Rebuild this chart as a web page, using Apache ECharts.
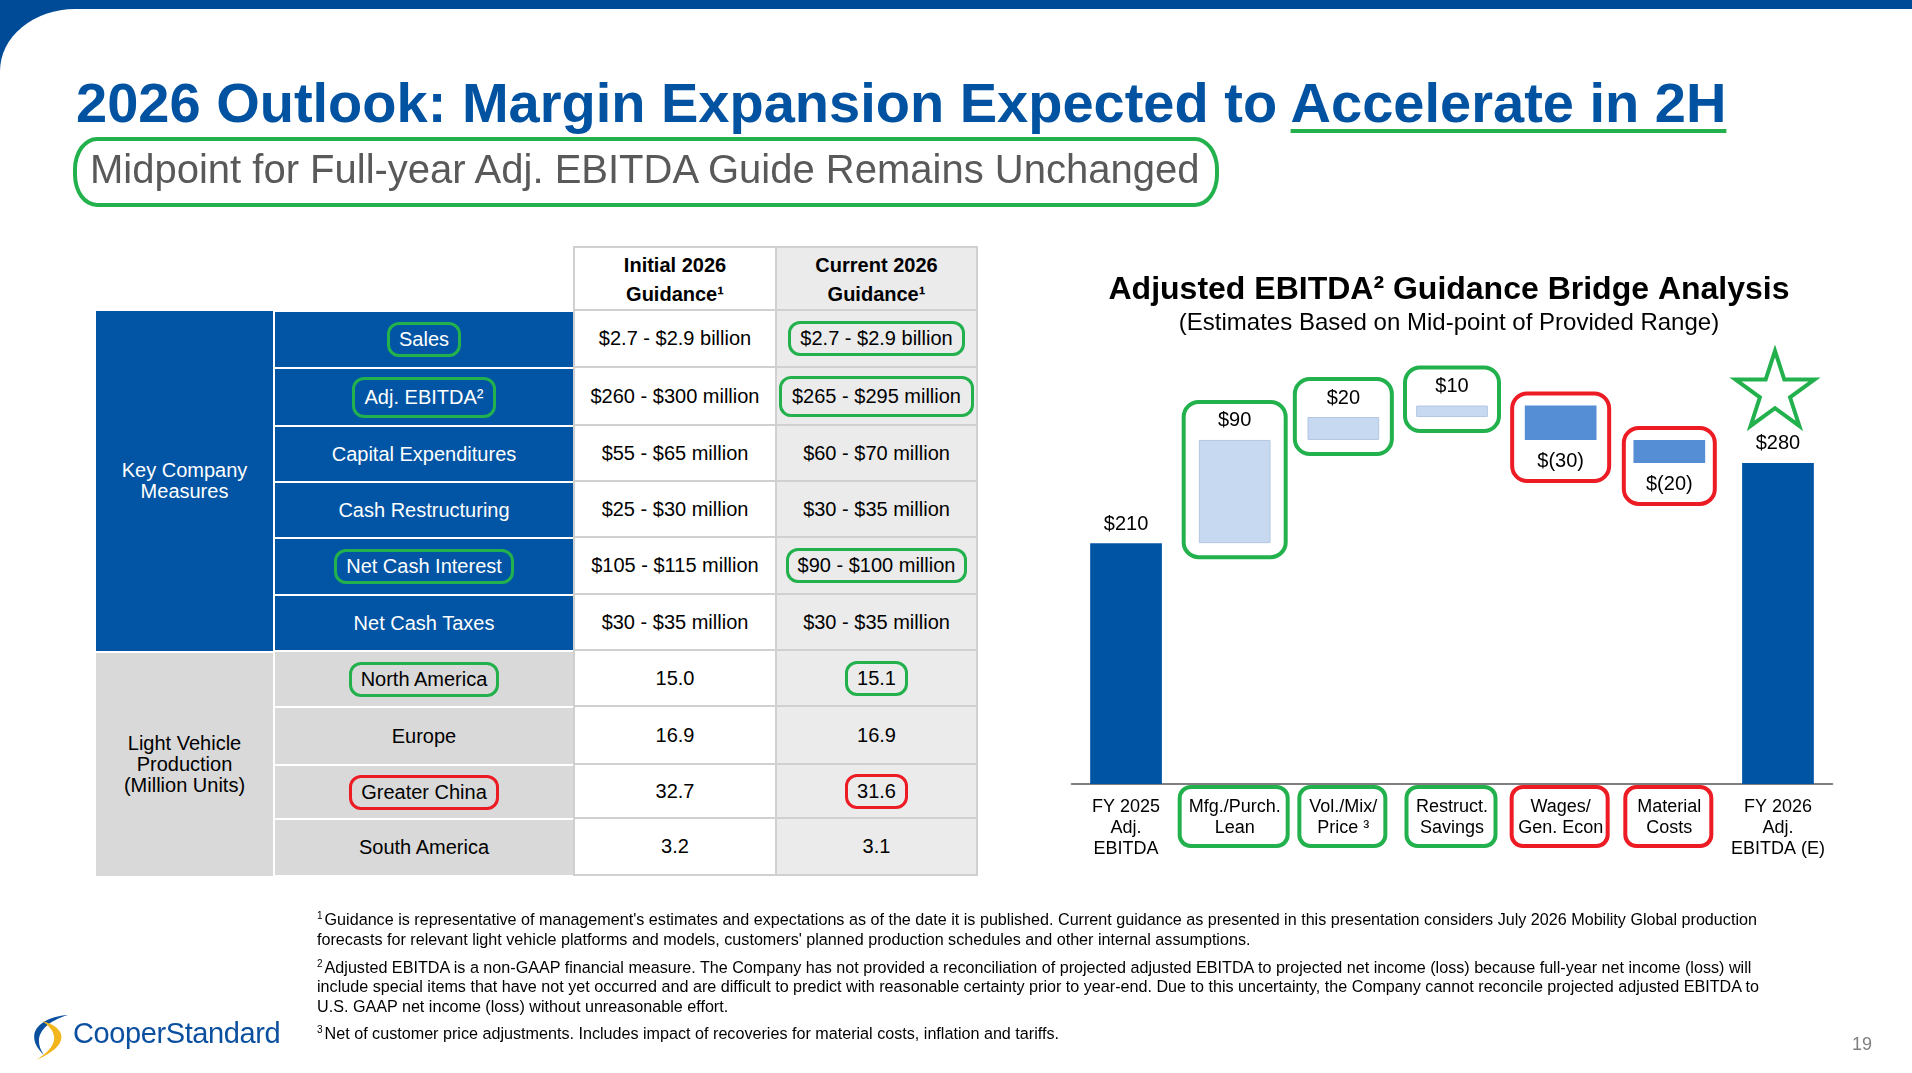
<!DOCTYPE html>
<html>
<head>
<meta charset="utf-8">
<script src="https://cdn.jsdelivr.net/npm/echarts@6/dist/echarts.min.js"></script>
<style>
  html,body{margin:0;padding:0;}
  body{width:1912px;height:1073px;overflow:hidden;background:#fff;position:relative;font-family:'Liberation Sans',Arial,sans-serif;}
  .abs{position:absolute;box-sizing:border-box;}
  .cell{position:absolute;box-sizing:border-box;display:flex;align-items:center;justify-content:center;text-align:center;font-size:20px;line-height:21px;}
  .hl{display:inline-block;border:3.5px solid #22b14c;border-radius:12px;padding:3px 9px;line-height:23px;}
  .hl.red{border-color:#ed1c24;}
  .hl.tall{padding:6px 10px;}
  .fn{position:absolute;left:317px;font-size:16.15px;line-height:20px;white-space:nowrap;color:#000;}
  .fn sup{font-size:10px;vertical-align:6px;line-height:0;margin-right:2px;}
</style>
</head>
<body>
<div class="abs" style="left:0;top:0;width:1912px;height:120px;background:#004b98;"></div>
<div class="abs" style="left:0;top:9px;width:1912px;height:1064px;background:#fff;border-top-left-radius:75px 62px;"></div>
<div id="chart" class="abs" style="left:0;top:0;width:1912px;height:1073px;"></div>
<div id="page"></div>
<script>
// ---------------- data ----------------
const pageTitleMain = '2026 Outlook: Margin Expansion Expected to ';
const pageTitleAccent = 'Accelerate in 2H';
const pageSubtitle = 'Midpoint for Full-year Adj. EBITDA Guide Remains Unchanged';

const tableHeaders = ['Initial 2026<br>Guidance¹', 'Current 2026<br>Guidance¹'];
const tableGroups = ['Key Company<br>Measures', 'Light Vehicle<br>Production<br>(Million Units)'];
const tableMeasures = ['Sales','Adj. EBITDA²','Capital Expenditures','Cash Restructuring','Net Cash Interest','Net Cash Taxes','North America','Europe','Greater China','South America'];
const tableInitial = ['$2.7 - $2.9 billion','$260 - $300 million','$55 - $65 million','$25 - $30 million','$105 - $115 million','$30 - $35 million','15.0','16.9','32.7','3.2'];
const tableCurrent = ['$2.7 - $2.9 billion','$265 - $295 million','$60 - $70 million','$30 - $35 million','$90 - $100 million','$30 - $35 million','15.1','16.9','31.6','3.1'];
const tableMarks = ['green','green',null,null,'green',null,'green',null,'red',null];

const chartTitle = 'Adjusted EBITDA² Guidance Bridge Analysis';
const chartSubtitle = '(Estimates Based on Mid-point of Provided Range)';
const bridgeCategories = ['FY 2025\nAdj.\nEBITDA','Mfg./Purch.\nLean','Vol./Mix/\nPrice ³','Restruct.\nSavings','Wages/\nGen. Econ','Material\nCosts','FY 2026\nAdj.\nEBITDA (E)'];
const bridgeValues = [210, 90, 20, 10, -30, -20, 280];
const bridgeKinds = ['total','up','up','up','down','down','total'];
const bridgeLabels = ['$210','$90','$20','$10','$(30)','$(20)','$280'];
const bridgeMarks = [null,'green','green','green','red','red',null];

const footnotes = [
  {sup:'1', text:"Guidance is representative of management's estimates and expectations as of the date it is published. Current guidance as presented in this presentation considers July 2026 Mobility Global production"},
  {sup:'', text:"forecasts for relevant light vehicle platforms and models, customers' planned production schedules and other internal assumptions."},
  {sup:'2', text:"Adjusted EBITDA is a non-GAAP financial measure. The Company has not provided a reconciliation of projected adjusted EBITDA to projected net income (loss) because full-year net income (loss) will"},
  {sup:'', text:"include special items that have not yet occurred and are difficult to predict with reasonable certainty prior to year-end. Due to this uncertainty, the Company cannot reconcile projected adjusted EBITDA to"},
  {sup:'', text:"U.S. GAAP net income (loss) without unreasonable effort."},
  {sup:'3', text:"Net of customer price adjustments. Includes impact of recoveries for material costs, inflation and tariffs."}
];
const pageNumber = '19';

// ---------------- layout / style ----------------
const GREEN = '#22b14c', RED = '#ed1c24', BLUE = '#0155a4';
const page = document.getElementById('page');
function add(html){ page.insertAdjacentHTML('beforeend', html); }

// title
add(`<div class="abs" style="left:76px;top:74.6px;font-size:56px;line-height:56px;font-weight:bold;color:#0152a1;white-space:nowrap;">${pageTitleMain}<span style="text-decoration:underline;text-decoration-color:${GREEN};text-decoration-thickness:4px;text-underline-offset:7px;">${pageTitleAccent}</span></div>`);
add(`<div class="abs" style="left:73px;top:137px;width:1146px;height:70px;border:4px solid ${GREEN};border-radius:24px / 32px;"></div>`);
add(`<div class="abs" style="left:90px;top:149px;font-size:40px;line-height:40px;color:#595959;white-space:nowrap;">${pageSubtitle}</div>`);

// table
const colX = [96, 273, 275, 573, 775, 978];
const rowY = [311, 368, 426, 482, 538, 595, 651, 707, 765, 819, 876];
const headTop = 246;
add(`<div class="cell" style="left:${colX[3]}px;top:${headTop}px;width:${colX[4]-colX[3]}px;height:${rowY[0]-headTop}px;padding-top:3px;background:#fff;border-top:2px solid #d0d0d0;border-left:2px solid #d0d0d0;border-bottom:2px solid #d0d0d0;font-weight:bold;line-height:29px;">${tableHeaders[0]}</div>`);
add(`<div class="cell" style="left:${colX[4]}px;top:${headTop}px;width:${colX[5]-colX[4]}px;height:${rowY[0]-headTop}px;padding-top:3px;background:#ebebeb;border-top:2px solid #d0d0d0;border-left:2px solid #d0d0d0;border-right:2px solid #d0d0d0;border-bottom:2px solid #d0d0d0;font-weight:bold;line-height:29px;">${tableHeaders[1]}</div>`);
add(`<div class="cell" style="left:${colX[0]}px;top:${rowY[0]}px;width:${colX[1]-colX[0]}px;height:${rowY[6]-rowY[0]}px;background:${BLUE};color:#fff;">${tableGroups[0]}</div>`);
add(`<div class="cell" style="left:${colX[0]}px;top:${rowY[6]+2}px;width:${colX[1]-colX[0]}px;height:${rowY[10]-rowY[6]-2}px;background:#d9d9d9;color:#000;">${tableGroups[1]}</div>`);
tableMeasures.forEach((m, i) => {
  const y0 = rowY[i], y1 = rowY[i+1];
  const blue = i < 6;
  const mk = tableMarks[i];
  const wrap = t => mk ? `<span class="hl ${mk==='red'?'red':''} ${i===1?'tall':''}">${t}</span>` : t;
  add(`<div class="cell" style="left:${colX[2]}px;top:${y0+1}px;width:${colX[3]-colX[2]}px;height:${y1-y0-2}px;background:${blue?BLUE:'#d9d9d9'};color:${blue?'#fff':'#000'};">${wrap(m)}</div>`);
  add(`<div class="cell" style="left:${colX[3]}px;top:${y0}px;width:${colX[4]-colX[3]}px;height:${y1-y0}px;background:#fff;border-left:2px solid #d0d0d0;border-bottom:2px solid #d0d0d0;">${tableInitial[i]}</div>`);
  add(`<div class="cell" style="left:${colX[4]}px;top:${y0}px;width:${colX[5]-colX[4]}px;height:${y1-y0}px;background:#ebebeb;border-left:2px solid #d0d0d0;border-right:2px solid #d0d0d0;border-bottom:2px solid #d0d0d0;">${wrap(tableCurrent[i])}</div>`);
});

// footnotes
const fnCenters = [919, 939, 967, 986, 1006, 1033];
footnotes.forEach((f, i) => {
  add(`<div class="fn" style="top:${fnCenters[i]-10}px;">${f.sup?`<sup>${f.sup}</sup>`:''}${f.text}</div>`);
});
add(`<div class="abs" style="left:1852px;top:1034px;font-size:18px;line-height:20px;color:#7f7f7f;">${pageNumber}</div>`);

// logo
add(`<svg class="abs" style="left:28px;top:1012px;" width="46" height="50" viewBox="0 0 46 50">
  <path d="M40 3 C12 5 -6 22 16 43 C4 26 14 11 40 3 Z" fill="#0b4f9f"/>
  <path d="M14 9 C38 15 44 33 8 48 C30 35 32 21 14 9 Z" fill="#f2b51c"/>
</svg>`);
add(`<div class="abs" style="left:73px;top:1016px;font-size:29px;line-height:34px;color:#0b4f9f;white-space:nowrap;letter-spacing:-0.4px;">CooperStandard</div>`);

// ---------------- chart ----------------
const chart = echarts.init(document.getElementById('chart'), null, {renderer:'canvas'});
const baseData = [], sizeData = [];
let running = 0;
bridgeValues.forEach((v, i) => {
  const k = bridgeKinds[i];
  if (k === 'total') { baseData.push(0); sizeData.push(v); running = v; }
  else if (k === 'up') { baseData.push(running); sizeData.push(v); running += v; }
  else { running += v; baseData.push(running); sizeData.push(-v); }
});
const kindColor = {total:'#0054a4', up:'#c6d9f0', down:'#558ed5'};
const FONT = "'Liberation Sans', Arial, sans-serif";

chart.setOption({
  animation:false,
  title:{
    text:chartTitle, subtext:chartSubtitle,
    left:1444, top:269, textAlign:'center', itemGap:5,
    textStyle:{fontSize:32, fontWeight:'bold', color:'#000', fontFamily:FONT},
    subtextStyle:{fontSize:24, color:'#000', fontFamily:FONT}
  },
  grid:{left:1071.7, right:79.7, top:382.6, bottom:289, containLabel:false},
  xAxis:{
    type:'category', data:bridgeCategories,
    axisLine:{show:true, lineStyle:{color:'#7f7f7f', width:2}},
    axisTick:{show:false},
    axisLabel:{interval:0, fontSize:18, lineHeight:21, margin:13, color:'#000', fontFamily:FONT}
  },
  yAxis:{type:'value', min:0, max:350, show:false, splitLine:{show:false}},
  series:[
    {type:'bar', stack:'w', data:baseData, itemStyle:{color:'rgba(0,0,0,0)'}, silent:true, barWidth:'66%'},
    {type:'bar', stack:'w', barWidth:'66%',
     data:sizeData.map((s, i) => ({
       value:s,
       itemStyle:{color:kindColor[bridgeKinds[i]], borderColor: bridgeKinds[i]==='up' ? '#b4c7e2' : kindColor[bridgeKinds[i]], borderWidth: bridgeKinds[i]==='up' ? 1 : 0},
       label:{position: bridgeKinds[i]==='down' ? 'bottom' : 'top', distance: bridgeKinds[i]==='down' ? 12 : 9}
     })),
     label:{show:true, fontSize:20, color:'#000', fontFamily:FONT, formatter:p => bridgeLabels[p.dataIndex]}
    }
  ]
});

// annotation boxes around highlighted bars and categories
const valueBoxHalf = [0, 51, 48.5, 47, 48.5, 45.5, 0];
const catBoxHalf = [0, 54, 43, 44.5, 48, 43, 0];
const graphics = [];
const axisY = chart.convertToPixel({gridIndex:0}, [0, 0])[1];
bridgeMarks.forEach((mk, i) => {
  if (!mk) return;
  const col = mk === 'green' ? GREEN : RED;
  const cx = chart.convertToPixel({gridIndex:0}, [i, 0])[0];
  const yTop = chart.convertToPixel({gridIndex:0}, [i, baseData[i] + sizeData[i]])[1];
  const yBot = chart.convertToPixel({gridIndex:0}, [i, baseData[i]])[1];
  let y0, y1;
  if (bridgeKinds[i] === 'up') { y0 = yTop - 38; y1 = yBot + 14; }
  else { y0 = yTop - 12; y1 = yBot + 41; }
  const hw = valueBoxHalf[i];
  graphics.push({type:'rect', z:100, shape:{x:cx-hw, y:y0, width:2*hw, height:y1-y0, r:15}, style:{fill:'none', stroke:col, lineWidth:4}});
  const ch = catBoxHalf[i];
  graphics.push({type:'rect', z:100, shape:{x:cx-ch-1, y:axisY+3, width:2*ch, height:59, r:11}, style:{fill:'none', stroke:col, lineWidth:4}});
});
// star above the final bar
{
  const last = bridgeValues.length - 1;
  const cx = chart.convertToPixel({gridIndex:0}, [last, 0])[0] - 3;
  const top = chart.convertToPixel({gridIndex:0}, [last, sizeData[last]])[1];
  const R = 41.5, r = R * 0.382, cy = top - 70.5;
  const pts = [];
  for (let k = 0; k < 10; k++) {
    const ang = -Math.PI/2 + k * Math.PI/5;
    const rad = k % 2 === 0 ? R : r;
    pts.push([cx + rad*Math.cos(ang), cy + rad*Math.sin(ang)]);
  }
  graphics.push({type:'polygon', z:100, shape:{points:pts}, style:{fill:'none', stroke:GREEN, lineWidth:4, lineJoin:'miter'}});
}
chart.setOption({graphic:graphics});
</script>
</body>
</html>
